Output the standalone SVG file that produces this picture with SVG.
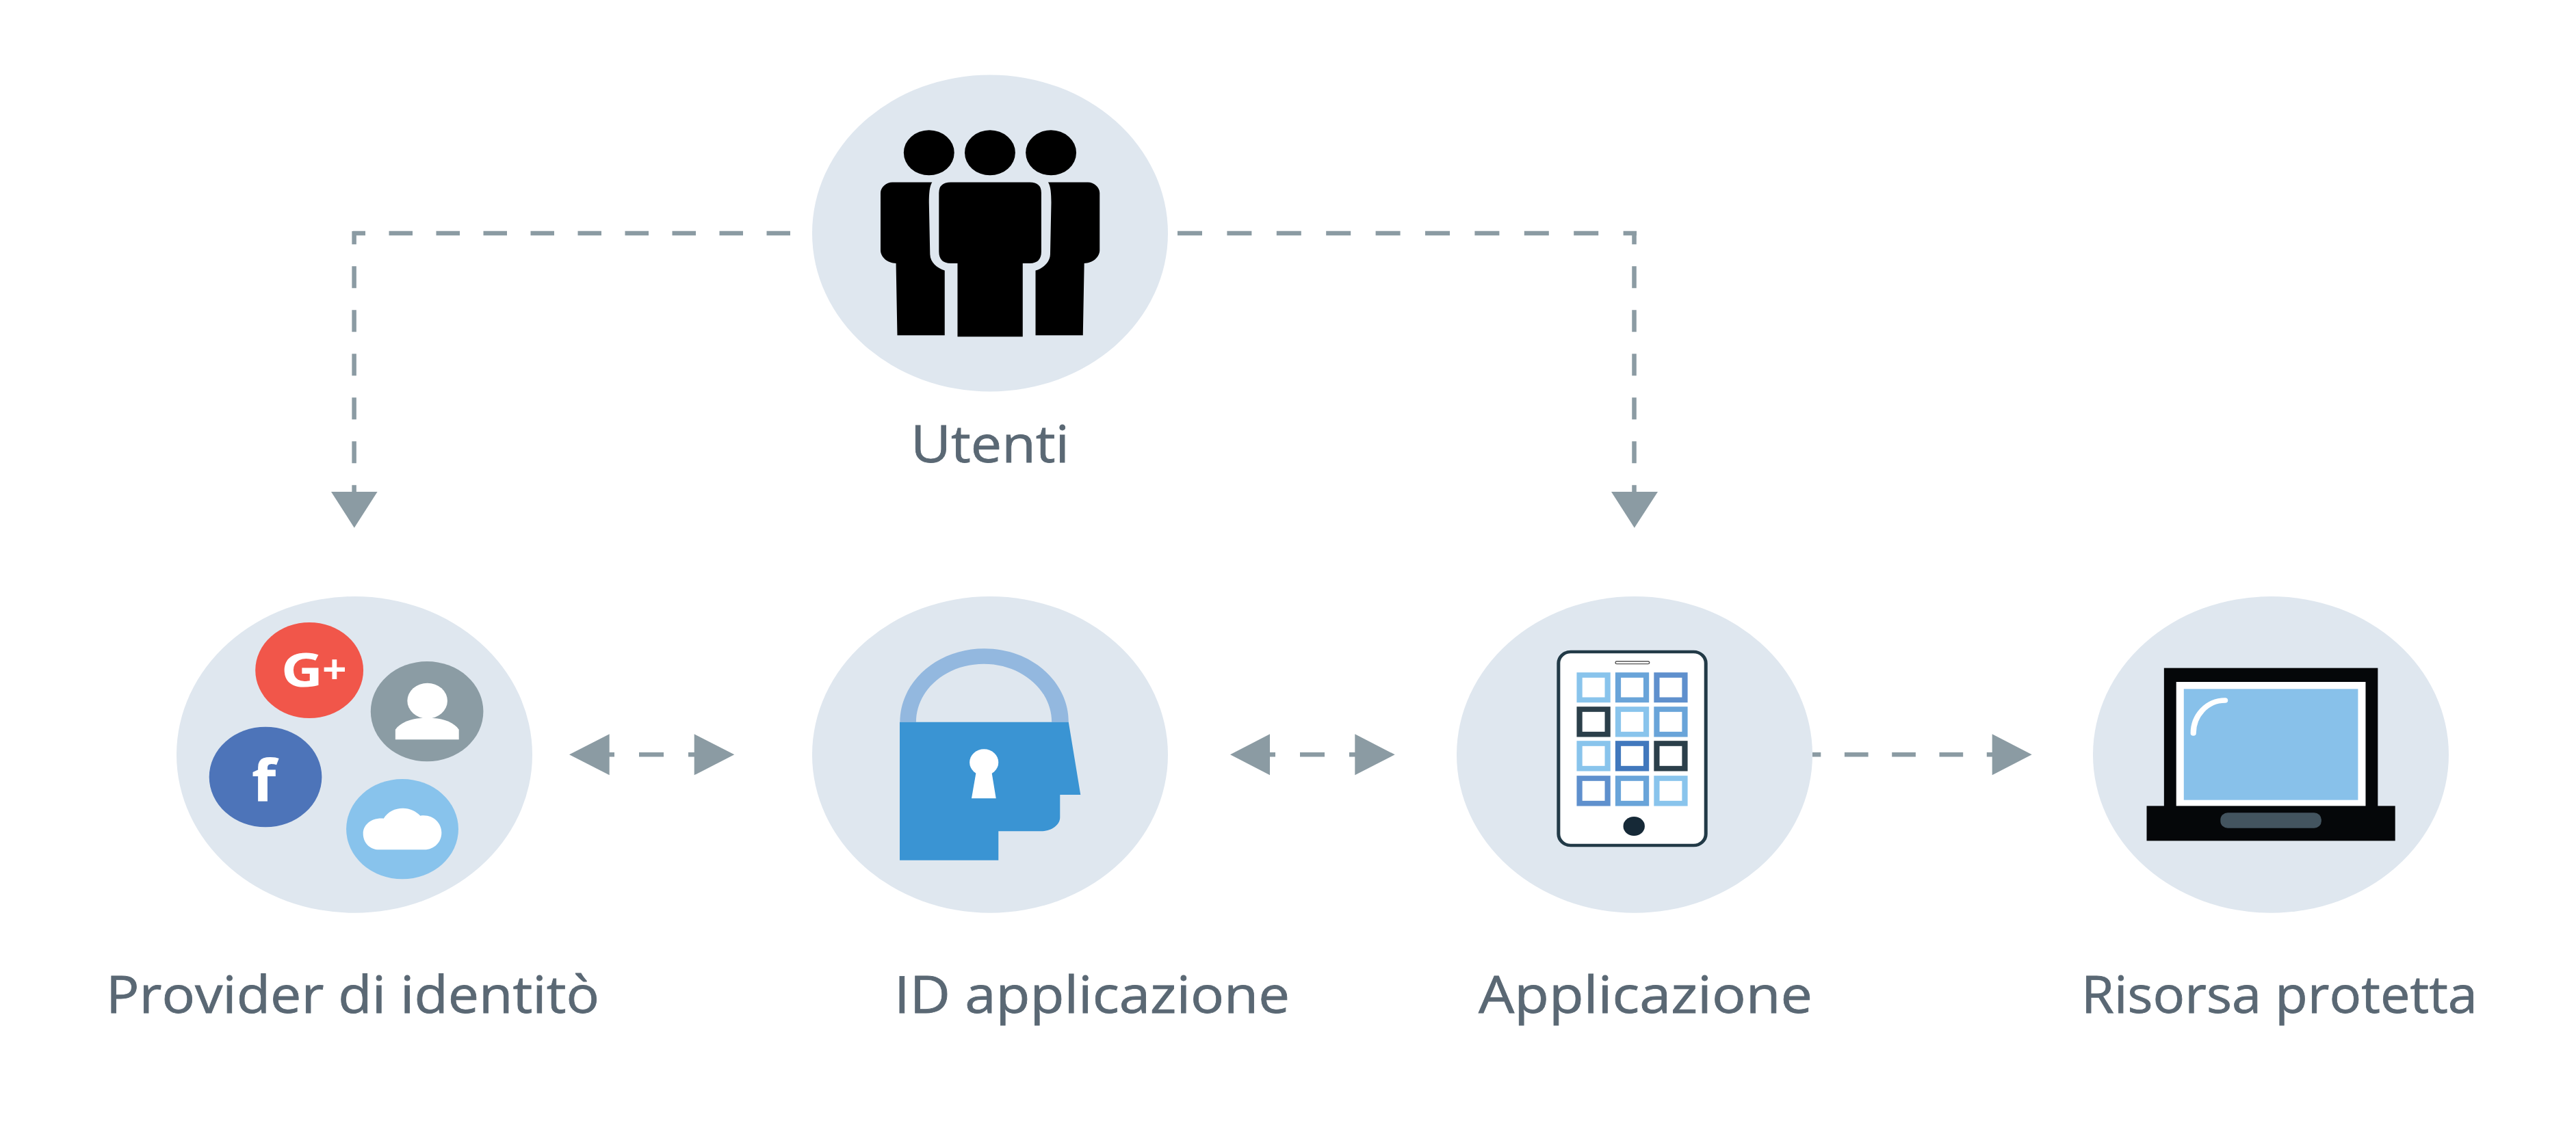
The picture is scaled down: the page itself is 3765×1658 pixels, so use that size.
<svg xmlns="http://www.w3.org/2000/svg" width="3765" height="1658" viewBox="0 0 3765 1658">
<style>
.bg{fill:#dfe7ef}
.dash{fill:none;stroke:#8b9ba3;stroke-width:6.5}
.head{fill:#8b9ba3}
.label{font-family:"Open Sans","Liberation Sans",sans-serif;font-size:75.6px;fill:#5a6874;stroke:#5a6874;stroke-width:0.8}
.logo{font-family:"Open Sans","Liberation Sans",sans-serif;font-weight:700;fill:#fff}
.w{fill:#fff}
.k{fill:#000}
.tile{fill:#fff;stroke-width:23}
.c1{stroke:#89c4ec}.c2{stroke:#69a4d9}.c3{stroke:#5f90cd}.c4{stroke:#2b3f4a}.c5{stroke:#4178bd}
</style>
<rect width="3765" height="1658" fill="#fff"/>
<g id="connectors">
<g id="conn-utenti-provider">
<path class="dash" d="M1155 341H516" stroke-dasharray="34.5 34.5"/>
<path class="dash" d="M517.6 338V722" stroke-dasharray="32 32" stroke-dashoffset="12.7"/>
<polygon class="head" points="484,719 551.6,719 517.8,771.7"/>
</g>
<g id="conn-utenti-applicazione">
<path class="dash" d="M1721 341H2392" stroke-dasharray="36 36.4"/>
<path class="dash" d="M2388.5 338V722" stroke-dasharray="32 32" stroke-dashoffset="12.7"/>
<polygon class="head" points="2355,719 2423,719 2388.8,771.7"/>
</g>
<g id="conn-provider-id">
<path class="dash" d="M862 1103.3H1042" stroke-dasharray="36 36"/>
<polygon class="head" points="890.7,1073.3 890.7,1133.3 832,1103.3"/>
<polygon class="head" points="1014.7,1073.3 1014.7,1133.3 1073.3,1103.3"/>
</g>
<g id="conn-id-applicazione">
<path class="dash" d="M1828 1103.3H2008" stroke-dasharray="36 36"/>
<polygon class="head" points="1856,1073.3 1856,1133.3 1798,1103.3"/>
<polygon class="head" points="1980.3,1073.3 1980.3,1133.3 2038.7,1103.3"/>
</g>
<g id="conn-applicazione-risorsa">
<path class="dash" d="M2649 1103.3H2920" stroke-dasharray="34.7 34.6" stroke-dashoffset="22.4"/>
<polygon class="head" points="2911.7,1073.3 2911.7,1133.3 2969.7,1103.3"/>
</g>
</g>
<g id="node-utenti">
<ellipse class="bg" cx="1447" cy="341" rx="260" ry="231.5"/>
<g transform="translate(1150 80) scale(0.38265 0.40816)">
<ellipse class="k" cx="543" cy="351" rx="96.5" ry="81"/>
<ellipse class="k" cx="776" cy="351" rx="96.5" ry="81"/>
<ellipse class="k" cx="1009" cy="351" rx="96.5" ry="81"/>
<path class="k" d="M403 457H555C545 470 543 500 543 530L547 715C548 745 575 765 603 773V1005H422L417 747C385 747 358 725 358 700V495C358 475 380 457 403 457Z"/>
<path class="k" d="M626 457H928Q972 457 972 495V705Q972 747 928 747H901V1010H652V747H626Q581 747 581 705V495Q581 457 626 457Z"/>
<path class="k" d="M1150 457H998C1008 470 1010 500 1010 530L1006 715C1005 745 978 765 950 773V1005H1131L1136 747C1168 747 1195 725 1195 700V495C1195 475 1173 457 1150 457Z"/>
</g>
<text class="label" x="1331" y="676" textLength="232" lengthAdjust="spacingAndGlyphs">Utenti</text>
</g>
<g id="node-provider">
<ellipse class="bg" cx="518" cy="1103.4" rx="260" ry="231.4"/>
<g transform="translate(240 860) scale(0.35714 0.33333)">
<ellipse cx="594" cy="360" rx="221" ry="210" fill="#f1564a"/>
<text class="logo" x="478" y="432" font-size="205" textLength="172" lengthAdjust="spacingAndGlyphs">G</text>
<text class="logo" x="647" y="421" font-size="175">+</text>
<ellipse cx="1075.5" cy="540.5" rx="230.5" ry="219.5" fill="#8b9ca4"/>
<ellipse class="w" cx="1077" cy="494" rx="82" ry="78"/>
<path class="w" d="M946 664V620C965 590 1010 572 1050 570H1102C1145 572 1187 590 1206 620V664Z"/>
<ellipse cx="414.5" cy="828" rx="230.5" ry="220" fill="#4d74b9"/>
<text class="logo" x="358" y="932" font-size="255" textLength="100" lengthAdjust="spacingAndGlyphs">f</text>
<ellipse cx="974.5" cy="1056.5" rx="229.5" ry="219.5" fill="#88c3ec"/>
<path class="w" d="M880 1147C840 1147 814 1115 814 1076C814 1040 845 1006 898 1010C915 980 945 965 977 965C1005 965 1030 978 1048 998C1100 990 1135 1030 1135 1072C1135 1115 1105 1147 1065 1147Z"/>
</g>
<text class="label" x="155" y="1481" textLength="721" lengthAdjust="spacingAndGlyphs">Provider di identitò</text>
</g>
<g id="node-id-applicazione">
<ellipse class="bg" cx="1447" cy="1103.4" rx="260" ry="231.4"/>
<g transform="translate(1170 860) scale(0.35714 0.33333)">
<path fill="#93b8df" d="M407 587C407 410 560 265 752 265C945 265 1097 410 1097 587H1028C1028 447 905 332 750 332C595 332 473 447 473 587Z"/>
<path fill="#3a94d3" d="M406 587H1097L1146 906H1062V1005C1062 1040 1025 1066 985 1066H810V1193H406Z"/>
<ellipse class="w" cx="751" cy="764" rx="59" ry="58"/>
<polygon class="w" points="719,805 700,922 800,922 782,805"/>
</g>
<text class="label" x="1307" y="1481" textLength="578" lengthAdjust="spacingAndGlyphs">ID applicazione</text>
</g>
<g id="node-applicazione">
<ellipse class="bg" cx="2389" cy="1103.4" rx="260" ry="231.4"/>
<g transform="translate(2120 860) scale(0.35714 0.33333)">
<rect x="442" y="279" width="603" height="849" rx="50" ry="50" fill="#fff" stroke="#223a47" stroke-width="14"/>
<rect x="675" y="321" width="139" height="11" rx="5" fill="#fff" stroke="#555" stroke-width="4"/>
<rect class="tile c1" x="528" y="381" width="115" height="109"/>
<rect class="tile c2" x="686" y="381" width="115" height="109"/>
<rect class="tile c3" x="844" y="381" width="115" height="109"/>
<rect class="tile c4" x="528" y="531" width="115" height="110"/>
<rect class="tile c1" x="686" y="531" width="115" height="110"/>
<rect class="tile c2" x="844" y="531" width="115" height="110"/>
<rect class="tile c1" x="528" y="681" width="115" height="110"/>
<rect class="tile c5" x="686" y="681" width="115" height="110"/>
<rect class="tile c4" x="844" y="681" width="115" height="110"/>
<rect class="tile c3" x="528" y="834" width="115" height="110"/>
<rect class="tile c2" x="686" y="834" width="115" height="110"/>
<rect class="tile c1" x="844" y="834" width="115" height="110"/>
<ellipse cx="751" cy="1044" rx="44" ry="42" fill="#162937"/>
</g>
<text class="label" x="2161" y="1481" textLength="488" lengthAdjust="spacingAndGlyphs">Applicazione</text>
</g>
<g id="node-risorsa">
<ellipse class="bg" cx="3319" cy="1103.4" rx="260" ry="231.4"/>
<g transform="translate(3050 860) scale(0.35714 0.33333)">
<rect x="316" y="350" width="875" height="620" fill="#050709"/>
<rect x="245" y="955" width="1017" height="153" fill="#050709"/>
<rect class="w" x="366" y="411" width="775" height="544"/>
<rect x="397" y="442" width="713" height="487" fill="#88c1ea"/>
<path d="M436 636C436 560 490 492 566 492" fill="none" stroke="#fff" stroke-width="23" stroke-linecap="round"/>
<rect x="547" y="985" width="413" height="67" rx="30" fill="#43545f"/>
</g>
<text class="label" x="3042" y="1481" textLength="579" lengthAdjust="spacingAndGlyphs">Risorsa protetta</text>
</g>
</svg>
